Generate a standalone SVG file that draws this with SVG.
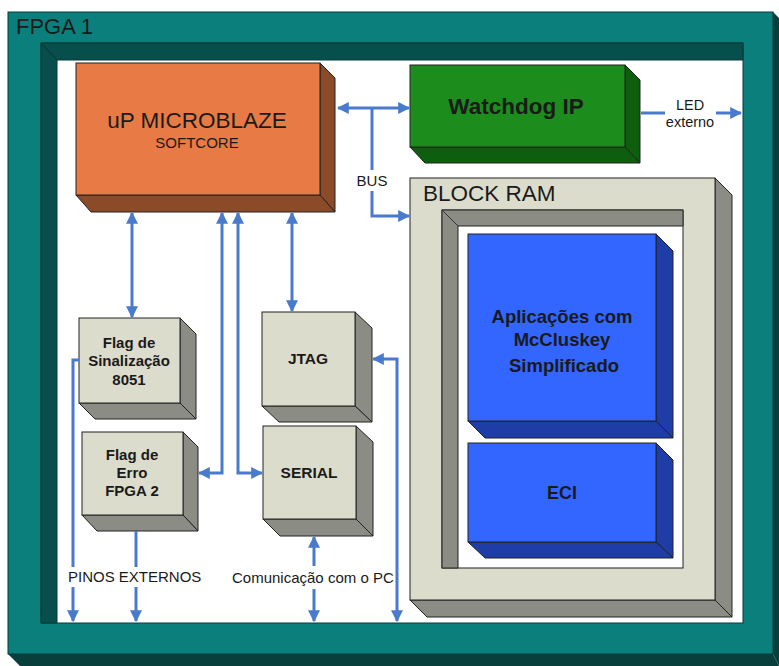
<svg xmlns="http://www.w3.org/2000/svg" width="779" height="666" viewBox="0 0 779 666">
<defs>
<style>
.t{font-family:"Liberation Sans",Arial,sans-serif;fill:#1a1a1a}
.b{font-weight:bold;text-anchor:middle}
.ln{fill:none;stroke:#4a7acc;stroke-width:3}
.edge{stroke:#222;stroke-width:1}
.gf{fill:#dcdccd}.gs{fill:#8b8c83}
</style>
<marker id="ah" viewBox="0 0 10 10" refX="9" refY="5" markerWidth="4" markerHeight="4" orient="auto-start-reverse" markerUnits="strokeWidth">
<path d="M0,0 L10,5 L0,10 Z" fill="#4a7acc"/>
</marker>
</defs>
<rect width="779" height="666" fill="#ffffff"/>

<g id="fpga1">
<polygon points="773,12 779,18 779,666 773,654" fill="#083e3c"/>
<polygon points="8,654 773,654 779,666 20,666" fill="#083e3c"/>
<rect x="8" y="12" width="765" height="642" fill="#0b7f7b" stroke="#063a38" stroke-width="1"/>
<text class="t" x="16" y="34" font-size="22">FPGA 1</text>
<rect x="41" y="43" width="702" height="580" fill="#ffffff" stroke="#063a38" stroke-width="1"/>
<polygon points="41,43 743,43 743,60 57,60 57,623 41,623" fill="#064f4c" stroke="#063a38" stroke-width="1"/>
<line x1="41" y1="43" x2="57" y2="60" stroke="#033432" stroke-width="1"/>
</g>

<g id="microblaze">
<polygon points="320,63 335,78 335,212 320,195" fill="#8b4a28" class="edge"/>
<polygon points="76,195 320,195 335,212 91,212" fill="#8b4a28" class="edge"/>
<rect x="76" y="63" width="244" height="132" fill="#e87a45" class="edge"/>
<text class="t" x="197" y="128" font-size="22.5" text-anchor="middle">uP MICROBLAZE</text>
<text class="t" x="197" y="148" font-size="15" text-anchor="middle">SOFTCORE</text>
</g>

<g id="watchdog">
<polygon points="625,65 640,80 640,163 625,147" fill="#0d5e0d" class="edge"/>
<polygon points="410,147 625,147 640,163 425,163" fill="#0d5e0d" class="edge"/>
<rect x="410" y="65" width="215" height="82" fill="#1c8c1c" class="edge"/>
<text class="t b" x="516" y="114" font-size="22.5">Watchdog IP</text>
</g>

<g id="blockram">
<polygon points="715,178 732,195 732,617 715,600" class="gs edge"/>
<polygon points="410,600 715,600 732,617 427,617" class="gs edge"/>
<rect x="410" y="178" width="305" height="422" class="gf edge"/>
<text class="t" x="423" y="201" font-size="22.5">BLOCK RAM</text>
<rect x="442" y="210" width="241" height="358" fill="#ffffff" class="edge"/>
<polygon points="442,210 683,210 683,226 458,226 458,568 442,568" class="gs edge"/>
<line x1="442" y1="210" x2="458" y2="226" stroke="#333" stroke-width="1"/>
</g>

<g id="aplicacoes">
<polygon points="656,234 673,251 673,438 656,421" fill="#1e3da6" class="edge"/>
<polygon points="468,421 656,421 673,438 485,438" fill="#1e3da6" class="edge"/>
<rect x="468" y="234" width="188" height="187" fill="#3366ff" class="edge"/>
<text class="t b" x="562" y="323" font-size="18.5">Aplicações com</text>
<text class="t b" x="562" y="346" font-size="18.5">McCluskey</text>
<text class="t b" x="564" y="372" font-size="18.5">Simplificado</text>
</g>

<g id="eci">
<polygon points="656,443 673,460 673,558 656,542" fill="#1e3da6" class="edge"/>
<polygon points="468,542 656,542 673,558 485,558" fill="#1e3da6" class="edge"/>
<rect x="468" y="443" width="188" height="99" fill="#3366ff" class="edge"/>
<text class="t b" x="562" y="499" font-size="18">ECI</text>
</g>

<g id="flag-sinalizacao">
<polygon points="180,318 196,334 196,419 180,403" class="gs edge"/>
<polygon points="79,403 180,403 196,419 95,419" class="gs edge"/>
<rect x="79" y="318" width="101" height="85" class="gf edge"/>
<text class="t b" x="129" y="348" font-size="15">Flag de</text>
<text class="t b" x="129" y="366" font-size="15">Sinalização</text>
<text class="t b" x="129" y="385" font-size="15">8051</text>
</g>

<g id="flag-erro">
<polygon points="183,432 198,447 198,531 183,515" class="gs edge"/>
<polygon points="82,515 183,515 198,531 97,531" class="gs edge"/>
<rect x="82" y="432" width="101" height="83" class="gf edge"/>
<text class="t b" x="132" y="460" font-size="15">Flag de</text>
<text class="t b" x="132" y="478" font-size="15">Erro</text>
<text class="t b" x="132" y="496" font-size="15">FPGA 2</text>
</g>

<g id="jtag">
<polygon points="355,312 372,328 372,422 355,406" class="gs edge"/>
<polygon points="262,406 355,406 372,422 279,422" class="gs edge"/>
<rect x="262" y="312" width="93" height="94" class="gf edge"/>
<text class="t b" x="308" y="364" font-size="15.5">JTAG</text>
</g>

<g id="serial">
<polygon points="356,426 373,442 373,536 356,519" class="gs edge"/>
<polygon points="263,519 356,519 373,536 280,536" class="gs edge"/>
<rect x="263" y="426" width="93" height="93" class="gf edge"/>
<text class="t b" x="309" y="478" font-size="15.5">SERIAL</text>
</g>

<g id="connectors">
<line class="ln" x1="338" y1="108" x2="409" y2="108" marker-start="url(#ah)" marker-end="url(#ah)"/>
<polyline class="ln" points="372,108 372,170"/>
<polyline class="ln" points="372,191 372,216 409,216" marker-end="url(#ah)"/>
<text class="t" x="372" y="186" font-size="15" text-anchor="middle" fill="#333">BUS</text>
<line class="ln" x1="641" y1="113" x2="665" y2="113"/>
<line class="ln" x1="716" y1="113" x2="741" y2="113" marker-end="url(#ah)"/>
<text class="t" x="690" y="110" font-size="14.5" text-anchor="middle">LED</text>
<text class="t" x="690" y="127" font-size="14.5" text-anchor="middle">externo</text>
<line class="ln" x1="132" y1="213" x2="132" y2="317" marker-start="url(#ah)" marker-end="url(#ah)"/>
<polyline class="ln" points="222,213 222,473 199,473" marker-start="url(#ah)" marker-end="url(#ah)"/>
<polyline class="ln" points="238,213 238,473 262,473" marker-start="url(#ah)" marker-end="url(#ah)"/>
<line class="ln" x1="292" y1="213" x2="292" y2="311" marker-start="url(#ah)" marker-end="url(#ah)"/>
<polyline class="ln" points="373,359 397,359 397,621" marker-start="url(#ah)" marker-end="url(#ah)"/>
<line class="ln" x1="314" y1="537" x2="314" y2="566" marker-start="url(#ah)"/>
<line class="ln" x1="314" y1="589" x2="314" y2="621" marker-end="url(#ah)"/>
<polyline class="ln" points="79,360 73,360 73,567"/>
<line class="ln" x1="73" y1="587" x2="73" y2="621" marker-end="url(#ah)"/>
<line class="ln" x1="136" y1="531" x2="136" y2="567"/>
<line class="ln" x1="136" y1="587" x2="136" y2="621" marker-end="url(#ah)"/>
<text class="t" x="68" y="582" font-size="15" fill="#333">PINOS EXTERNOS</text>
<text class="t" x="232" y="583" font-size="15" fill="#333">Comunicação com o PC</text>
</g>
</svg>
